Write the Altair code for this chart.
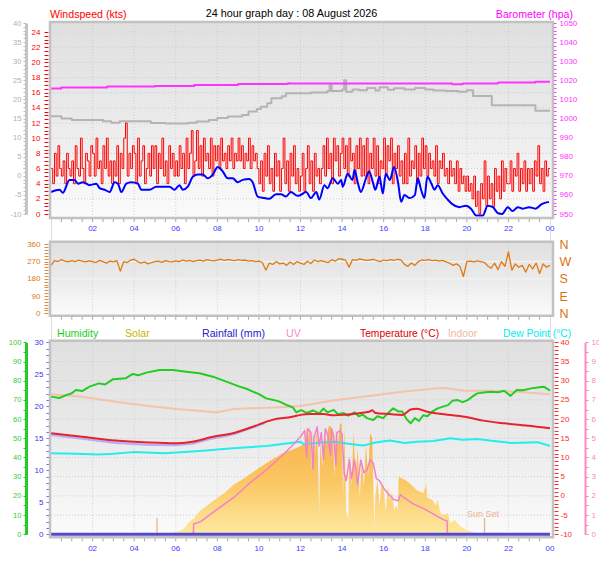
import altair as alt
import pandas as pd

FONT = "Liberation Sans"

# ---------------- data ----------------
HOUR_TICKS = [2, 4, 6, 8, 10, 12, 14, 16, 18, 20, 22, 24]
HOUR_LABELS = ["02", "04", "06", "08", "10", "12", "14", "16", "18", "20", "22", "00"]
HALF_HOURS = [i * 0.5 for i in range(1, 48)]

# wind gust (kts), every 5 minutes from 00:00 to 24:00
gust = [
    6, 4, 8, 5, 9, 6, 5, 7, 4, 8, 6, 5,
    7, 4, 9, 6, 5, 10, 6, 4, 8, 7, 5, 9,
    8, 5, 10, 6, 7, 4, 9, 6, 10, 5, 7, 4,
    7, 5, 9, 4, 8, 6, 10, 12, 5, 8, 6, 9,
    8, 4, 10, 5, 7, 9, 4, 6, 8, 5, 9, 6,
    9, 4, 8, 6, 10, 5, 7, 4, 9, 6, 8, 5,
    7, 5, 9, 6, 8, 4, 10, 6, 8, 11, 5, 7,
    11, 6, 9, 5, 10, 7, 8, 6, 10, 5, 9, 7,
    9, 6, 10, 7, 8, 6, 9, 7, 10, 6, 8, 7,
    10, 7, 9, 6, 8, 7, 10, 6, 9, 7, 8, 6,
    4, 7, 3, 8, 5, 9, 4, 6, 3, 8, 5, 7,
    3, 6, 10, 4, 7, 3, 8, 5, 9, 4, 6, 3,
    5, 8, 3, 6, 9, 4, 7, 3, 8, 5, 6, 4,
    6, 9, 5, 10, 6, 8, 4, 10, 7, 9, 5, 8,
    10, 6, 9, 5, 10, 7, 8, 4, 9, 6, 10, 5,
    9, 5, 10, 4, 8, 6, 10, 5, 9, 4, 7, 6,
    10, 5, 9, 7, 10, 4, 8, 6, 9, 5, 7, 4,
    8, 4, 10, 5, 7, 6, 9, 4, 8, 5, 10, 6,
    9, 5, 8, 6, 7, 5, 9, 4, 7, 6, 8, 5,
    6, 4, 7, 5, 6, 4, 7, 3, 6, 4, 5, 3,
    5, 3, 4, 2, 5, 1, 3, 0, 4, 2, 7, 1,
    5, 2, 4, 1, 6, 3, 5, 2, 7, 3, 6, 4,
    4, 7, 3, 6, 5, 8, 3, 6, 4, 7, 3, 6,
    4, 6, 3, 7, 5, 9, 4, 6, 3, 7, 5, 6,
    6,
]

# wind average (kts)
avg_h = [0, 0.41, 0.57, 0.89, 1.13, 1.3, 1.54, 1.86, 2.18, 2.34, 2.58, 2.82, 3.06, 3.22, 3.38,
         3.62, 3.86, 4.18, 4.34, 4.74, 5.06, 5.38, 5.7, 5.94, 6.18, 6.34, 6.58, 6.82, 7.06, 7.3,
         7.54, 7.78, 8.02, 8.26, 8.5, 8.74, 8.98, 9.22, 9.54, 9.7, 9.94, 10.26, 10.5, 10.82, 11.06,
         11.3, 11.54, 11.86, 12.0, 12.27, 12.5, 12.76, 12.9, 13.15, 13.3, 13.55, 13.8, 13.96, 14.03,
         14.27, 14.5, 14.6, 14.75, 14.9, 15.15, 15.3, 15.5, 15.6, 15.8, 15.96, 16.1, 16.3, 16.5,
         16.7, 16.84, 17.0, 17.24, 17.5, 17.64, 17.8, 17.96, 18.1, 18.3, 18.44, 18.6, 18.84, 19.08,
         19.3, 19.64, 19.96, 20.2, 20.45, 20.77, 21.0, 21.25, 21.5, 21.7, 21.97, 22.2, 22.45, 22.7,
         23.0, 23.3, 23.6, 23.95]
avg_v = [2.9, 3.2, 2.8, 4.5, 4.5, 4.0, 4.2, 3.8, 4.0, 3.4, 3.2, 2.9, 4.2, 4.0, 2.9,
         4.0, 4.2, 4.0, 3.2, 3.2, 3.6, 3.6, 3.6, 3.2, 3.8, 3.2, 3.6, 4.9, 5.2, 5.2,
         4.7, 5.2, 6.2, 5.6, 4.7, 4.7, 4.2, 4.5, 4.6, 4.2, 2.3, 2.1, 2.0, 2.6, 2.6,
         2.3, 2.9, 2.4, 2.5, 2.9, 2.1, 2.9, 1.9, 3.8, 3.4, 4.7, 4.0, 4.5, 3.6,
         5.3, 4.5, 5.8, 4.2, 2.9, 4.7, 5.6, 4.0, 3.2, 4.9, 2.7, 5.3, 4.5, 6.2,
         4.0, 1.6, 2.5, 2.1, 2.5, 4.7, 3.2, 2.1, 4.9, 4.0, 3.2, 3.8, 2.7, 1.9,
         1.3, 0.9, 1.1, 0.7, -0.2, -0.2, 1.1, 0.9, 0.1, 0.0, 0.9, 0.4, 0.9, 0.7,
         0.9, 0.7, 1.3, 1.6]

# grey series (left grey scale -10..40)
grey_h = [0, 0.5, 1.0, 2.5, 2.9, 3.3, 4.6, 4.8, 5.5, 6.6, 7.0, 7.6, 8.0, 8.5, 9.2, 9.5, 9.9,
          10.1, 10.4, 10.6, 11.1, 11.3, 12.5, 13.3, 13.4, 13.5, 14.0, 14.1, 14.2, 14.5, 14.8,
          15.2, 15.6, 15.8, 16.2, 16.5, 17.0, 17.5, 18.0, 18.4, 19.0, 19.6, 20.0, 20.3, 21.2,
          23.3, 24.0]
grey_v = [15.6, 15.0, 14.6, 14.3, 13.9, 14.3, 14.3, 13.8, 13.7, 13.9, 14.2, 14.6, 15.1, 15.5,
          15.9, 16.8, 17.5, 18.1, 19.0, 20.3, 20.8, 21.6, 21.8, 22.2, 23.7, 22.2, 22.5, 25.0,
          22.0, 22.6, 22.4, 23.0, 22.3, 23.2, 22.5, 22.9, 22.6, 23.0, 22.6, 22.3, 22.2, 22.0,
          22.4, 20.9, 18.5, 17.0, 17.0]

# barometer (hPa)
baro_h = [0, 0.5, 2.7, 5.0, 6.9, 9.0, 11.4, 11.5, 19.3, 19.8, 21.5, 23.3, 24.0]
baro_v = [1015.7, 1016.2, 1016.7, 1017.0, 1017.5, 1018.0, 1018.5, 1018.3, 1017.9, 1018.3,
          1018.9, 1019.3, 1019.3]

# wind direction (deg), every 10 minutes
wdir = [
    250, 275, 270, 280, 272, 268,
    275, 270, 278, 272, 268, 274,
    270, 265, 276, 270, 262, 272,
    268, 275, 220, 270, 265, 278,
    282, 270, 262, 268, 258, 265,
    270, 272, 266, 275, 270, 268,
    274, 270, 278, 272, 276, 270,
    275, 278, 272, 280, 276, 274,
    278, 282, 276, 280, 278, 275,
    280, 276, 278, 272, 275, 270,
    272, 265, 225, 262, 255, 270,
    258, 262, 250, 268, 255, 270,
    262, 255, 272, 260, 278, 270,
    275, 270, 265, 280, 272, 285,
    282, 278, 240, 280, 276, 284,
    280, 276, 278, 282, 275, 270,
    278, 275, 280, 276, 282, 278,
    255, 245, 262, 250, 270, 278,
    276, 280, 275, 278, 272, 276,
    268, 262, 250, 258, 245, 192,
    270, 272, 268, 274, 270, 266,
    248, 235, 262, 228, 270, 245,
    320, 225, 258, 240, 250, 215,
    255, 232, 262, 208, 258, 240,
    250,
]

# humidity (%)
hum_h = [0, 0.4, 0.73, 1.0, 1.2, 1.5, 1.85, 2.3, 2.6, 2.97, 3.3, 3.6, 3.94, 4.2, 4.58, 5.22, 5.86,
         6.5, 7.14, 7.79, 8.43, 9.07, 9.4, 9.71, 10.0, 10.35, 10.7, 10.99, 11.3, 11.63, 11.8, 12.03,
         12.3, 12.6, 12.9, 13.1, 13.3, 13.6, 13.8, 14.06, 14.3, 14.6, 14.8, 15.0, 15.2, 15.5, 15.7,
         15.98, 16.2, 16.46, 16.7, 16.9, 17.1, 17.3, 17.5, 17.7, 17.9, 18.1, 18.35, 18.6, 18.85,
         19.1, 19.3, 19.56, 19.8, 20.04, 20.3, 20.5, 20.8, 21.15, 21.5, 21.8, 22.1, 22.4, 22.7,
         23.1, 23.4, 23.7, 24.0]
hum_v = [71.7, 71.0, 72.5, 73.5, 75.2, 74.6, 76.9, 78.6, 78.0, 80.7, 81.0, 81.3, 83.5, 82.8, 84.2,
         85.6, 85.6, 84.7, 83.9, 82.1, 79.5, 76.9, 75.8, 74.3, 73.0, 70.8, 70.0, 69.1, 67.5, 66.1,
         63.5, 64.7, 63.2, 64.5, 63.0, 65.5, 63.5, 64.8, 62.5, 63.2, 61.8, 63.5, 61.5, 62.3, 60.5,
         59.5, 61.5, 60.5, 63.0, 65.6, 64.0, 63.9, 60.0, 57.8, 60.5, 59.0, 62.0, 61.5, 64.0, 65.6,
         66.5, 67.3, 69.5, 69.9, 68.8, 69.9, 72.0, 73.4, 73.8, 74.3, 74.0, 74.8, 72.1, 75.2, 75.0,
         76.0, 76.5, 76.9, 74.8]

# outdoor temperature (C)
temp_h = [0, 1.5, 3.1, 4.7, 6.0, 6.8, 7.8, 8.75, 9.7, 10.65, 11.6, 12.0, 12.5, 13.1, 13.6, 14.06,
          14.6, 15.3, 15.45, 15.6, 16.3, 16.9, 17.3, 17.6, 18.1, 18.9, 19.9, 20.8, 21.8, 23.1, 24.0]
temp_v = [16.3, 15.4, 14.4, 13.9, 13.7, 14.1, 15.4, 16.3, 18.0, 19.8, 20.6, 21.1, 21.3, 21.3, 21.0,
          21.1, 21.4, 21.9, 22.3, 21.6, 21.3, 21.1, 22.5, 22.7, 21.9, 21.25, 20.6, 19.6, 18.9, 18.2,
          17.6]

# lavender series under the temperature (C)
feel_h = [0, 1.5, 3.1, 4.7, 6.0, 6.8, 7.8, 8.75, 9.7, 10.3]
feel_v = [15.9, 14.9, 13.8, 13.3, 13.2, 13.6, 15.0, 16.0, 17.8, 19.0]

# indoor temperature (C)
indoor_h = [0, 1.5, 3.1, 4.7, 6.0, 7.1, 7.95, 8.75, 9.7, 11.1, 12.0, 13.7, 15.3, 16.9, 18.5, 18.9,
            19.9, 21.1, 22.4, 24.0]
indoor_v = [26.5, 25.8, 24.5, 23.4, 22.6, 22.2, 21.7, 22.6, 22.8, 23.1, 23.4, 25.0, 26.0, 27.1,
            28.0, 28.1, 27.4, 27.4, 27.1, 26.5]

# dew point (C)
dew_h = [0, 1.2, 2.3, 3.0, 3.94, 5.5, 7.14, 8.75, 10.35, 12.0, 12.14, 13.0, 13.7, 14.3, 15.0, 15.6,
         16.3, 17.0, 17.6, 18.4, 19.2, 19.8, 20.5, 21.3, 22.1, 23.4, 24.0]
dew_v = [11.1, 11.0, 10.8, 11.0, 11.4, 11.1, 11.7, 12.4, 13.0, 14.1, 13.5, 13.9, 14.1, 13.6, 13.1,
         13.9, 14.4, 13.8, 14.1, 14.3, 15.0, 14.6, 14.8, 14.3, 13.8, 14.0, 13.0]

# solar radiation (W/m2)
solar_h = [0, 5.0, 5.3, 5.8, 6.2, 6.4, 6.6, 6.9, 7.14, 7.5, 7.95, 8.4, 8.75, 9.2, 9.55, 10.0, 10.35,
           10.8, 11.15, 11.6, 12.0, 12.25, 12.3, 12.4, 12.45, 12.55, 12.6, 12.7, 12.8, 12.9, 12.95,
           13.05, 13.15, 13.25, 13.35, 13.45, 13.55, 13.65, 13.7, 13.8, 13.9, 13.97, 14.05, 14.1,
           14.2, 14.3, 14.35, 14.45, 14.55, 14.65, 14.75, 14.85, 14.95, 15.05, 15.15, 15.25, 15.35,
           15.45, 15.55, 15.6, 15.7, 15.8, 15.9, 16.0, 16.1, 16.2, 16.3, 16.4, 16.5, 16.6, 16.68,
           16.72, 17.0, 17.25, 17.6, 17.9, 18.05, 18.1, 18.35, 18.5, 18.6, 18.7, 18.8, 19.1, 19.2,
           19.4, 19.7, 20.0, 20.2, 20.5, 20.6, 24.0]
solar_v = [0, 0, 4, 8, 18, 30, 60, 85, 120, 150, 185, 220, 255, 285, 312, 345, 370,
           400, 422, 440, 458, 475, 560, 500, 565, 330, 540, 420, 555, 110, 480,
           350, 540, 470, 560, 565, 520, 300, 550, 460, 575, 580, 200, 560,
           120, 80, 420, 250, 534, 300, 450, 196, 380, 250, 470, 300, 526,
           500, 40, 200, 283, 150, 260, 230, 120, 250, 179, 220, 127, 150, 127,
           300, 285, 266, 230, 214, 260, 190, 179, 150, 179, 120, 100, 110, 57,
           74, 40, 22, 14, 3, 0, 0]

# UV index
uv_h = [0, 6.85, 6.86, 7.2, 7.95, 8.75, 9.55, 10.35, 11.15, 11.63, 12.0, 12.2, 12.3, 12.35, 12.5,
        12.6, 12.65, 12.8, 12.9, 13.0, 13.1, 13.2, 13.3, 13.45, 13.5, 13.6, 13.7, 13.75, 13.9, 14.0,
        14.1, 14.2, 14.35, 14.45, 14.6, 14.75, 14.9, 15.05, 15.2, 15.35, 15.5, 15.65, 15.8, 16.0,
        16.2, 16.5, 16.7, 16.8, 17.0, 17.4, 18.0, 18.6, 18.9, 19.05, 19.07, 24.0]
uv_v = [0, 0, 0.54, 0.66, 1.27, 1.88, 2.66, 3.35, 4.13, 4.65, 5.08, 5.4, 4.0, 5.5, 5.3,
        3.4, 5.0, 5.6, 4.6, 5.3, 3.9, 5.5, 5.2, 4.1, 5.5, 5.1, 3.6, 5.3, 5.4, 5.2,
        3.2, 2.8, 3.9, 2.9, 3.87, 2.6, 3.87, 3.2, 3.35, 3.9, 3.7, 2.9, 2.8, 2.4,
        2.13, 1.8, 1.75, 2.06, 1.9, 1.6, 1.3, 0.92, 0.75, 0.7, 0, 0]

# rainfall (mm)
rain_h = [0, 24]
rain_v = [0, 0]

SUNRISE_H = 5.1
SUNSET_H = 20.85

# ---------------- layout helpers ----------------
W = 499
H = 515
XS = alt.Scale(domain=[0, 24], range=[0, W], nice=False, zero=False)
XN = alt.X("h:Q", scale=XS, axis=None)

def ysc(domain, rng):
    return alt.Scale(domain=domain, range=rng, nice=False, zero=False)

# panel pixel ranges (plot coordinates)
TOP_Y0, TOP_Y1 = 0, 196
MID_Y0, MID_Y1 = 219.7, 293.7
BOT_Y0, BOT_Y1 = 318.7, 515.3

S_WIND = lambda: ysc([0, 24], [192, 10])
S_GREY = lambda: ysc([-10, 40], [192, 1])
S_BARO = lambda: ysc([950, 1050], [192, 1])
S_DIR = lambda: ysc([0, 360], [291.3, 222.3])
S_RAIN = lambda: ysc([0, 30], [512.3, 320.3])
S_HUM = lambda: ysc([0, 100], [512.3, 320.3])
S_TEMP = lambda: ysc([-10, 40], [512.3, 320.3])
S_UV = lambda: ysc([0, 10], [512.3, 320.3])
S_SOLAR = lambda: ysc([0, 1000], [512.3, 320.3])


def yaxis(orient, offset, values, every, color, label_color=None, domain=False,
          domain_color=None, domain_width=1, tick_size=3, padding=2, size=8, expr=None,
          ticks=True):
    if expr is None:
        expr = f"abs(datum.value % {every}) < 0.001 ? '' + datum.value : ''"
    kw = dict(orient=orient, offset=offset, values=values, labelExpr=expr,
              tickColor=color, labelColor=label_color or color, tickSize=tick_size,
              labelPadding=padding, labelFontSize=size, labelFont=FONT, domain=domain,
              grid=False, title=None, labelOverlap=False, labelFlush=False, labelBound=False,
              ticks=ticks, tickWidth=1)
    if domain:
        kw.update(domainColor=domain_color, domainWidth=domain_width)
    return alt.Axis(**kw)


def series(h, v):
    return pd.DataFrame({"h": h, "v": v})


def line(df, scale, color, width=1.5, interp="linear", axis=None, opacity=1.0):
    return alt.Chart(df).mark_line(color=color, strokeWidth=width, interpolate=interp,
                                   opacity=opacity, strokeJoin="round").encode(
        x=XN, y=alt.Y("v:Q", scale=scale, axis=axis))


def label(txt, x, y, color, size=10.6, align="left"):
    return alt.Chart(pd.DataFrame({"t": [txt]})).mark_text(
        align=align, baseline="alphabetic", color=color, fontSize=size, font=FONT).encode(
        x=alt.value(x), y=alt.value(y), text="t:N")


def panel_bg(y0, y1):
    return alt.Chart(pd.DataFrame({"a": [0]})).mark_rect(
        fill={"gradient": "linear", "x1": 0, "x2": 0, "y1": 0, "y2": 1,
              "stops": [{"offset": 0, "color": "#e0e0e0"},
                        {"offset": 0.45, "color": "#e9e9e9"},
                        {"offset": 1, "color": "#fbfbfb"}]}).encode(
        x=alt.value(-1), x2=alt.value(W + 3), y=alt.value(y0), y2=alt.value(y1))


def panel_frame(y0, y1):
    return alt.Chart(pd.DataFrame({"a": [0]})).mark_rect(
        fillOpacity=0, stroke="#c2c2c2", strokeWidth=2.5).encode(
        x=alt.value(-1), x2=alt.value(W + 3), y=alt.value(y0), y2=alt.value(y1))


def vgrid(y0, y1):
    return alt.Chart(pd.DataFrame({"h": HOUR_TICKS[:-1]})).mark_rule(
        color="#cdcdcd", strokeDash=[1, 2], strokeWidth=1).encode(
        x=XN, y=alt.value(y0), y2=alt.value(y1))


def hgrid(vals, scale, color="#cdcdcd", dash=(1, 2)):
    return alt.Chart(pd.DataFrame({"v": vals})).mark_rule(
        color=color, strokeDash=list(dash), strokeWidth=1).encode(
        y=alt.Y("v:Q", scale=scale, axis=None), x=alt.value(0), x2=alt.value(W + 2))


def time_ticks(y0):
    return alt.Chart(pd.DataFrame({"h": HALF_HOURS})).mark_rule(
        color="#a8a8a8", strokeWidth=1).encode(x=XN, y=alt.value(y0), y2=alt.value(y0 + 3))


def time_labels(y):
    return alt.Chart(pd.DataFrame({"h": HOUR_TICKS, "lab": HOUR_LABELS})).mark_text(
        align="center", baseline="middle", fontSize=8, font=FONT, color="#3b3bff").encode(
        x=XN, y=alt.value(y), text="lab:N")


layers = []
# backgrounds and grids
for y0, y1 in [(TOP_Y0, TOP_Y1), (MID_Y0, MID_Y1), (BOT_Y0, BOT_Y1)]:
    layers.append(panel_bg(y0, y1))
    layers.append(vgrid(y0, y1))
layers.append(hgrid(list(range(2, 25, 2)), S_WIND()))
layers.append(hgrid([90, 180, 270], S_DIR(), color="#f6f6f6", dash=(1, 0)))
layers.append(hgrid(list(range(-5, 40, 5)), S_TEMP()))

# ---- top panel ----
gust_df = series([i / 12 for i in range(len(gust))], gust)
layers.append(line(series(grey_h, grey_v), S_GREY(), "#b4b4b4", 2, "step-after",
                   axis=yaxis("left", 25, list(range(-10, 41)), 5, "#bdbdbd",
                              label_color="#b0b0b0", domain=True, domain_color="#c4c4c4",
                              domain_width=3, tick_size=3, padding=2, size=7.6)))
layers.append(line(series(baro_h, baro_v), S_BARO(), "#ff33ff", 2, "step-after",
                   axis=yaxis("right", 3, list(range(950, 1051, 2)), 10, "#ff33ff",
                              tick_size=3, padding=3)))
layers.append(line(gust_df, S_WIND(), "#ff0000", 1, "step-after",
                   axis=yaxis("left", 3, [i * 0.5 for i in range(51)], 2, "#ff0000",
                              tick_size=4, padding=4)))
layers.append(line(series(avg_h, avg_v), S_WIND(), "#0000ff", 2, "monotone"))

# ---- middle panel ----
dir_df = series([i / 6 for i in range(len(wdir))], wdir)
layers.append(line(dir_df, S_DIR(), "#e07a14", 1.3,
                   axis=yaxis("left", 3, list(range(0, 361, 15)), 90, "#e8883a",
                              label_color="#e07a14", tick_size=4, padding=4)))
layers.append(line(dir_df, S_DIR(), "#e07a14", 0.1, opacity=0,
                   axis=yaxis("right", 2, [0, 90, 180, 270, 360], 90, "#d97412",
                              tick_size=0, ticks=False, padding=7, size=12.5,
                              expr="['N','E','S','W','N'][round(datum.value / 90)]")))

# ---- bottom panel ----
solar_df = series(solar_h, solar_v).assign(z=0)
layers.append(alt.Chart(solar_df).mark_area(
    fill={"gradient": "linear", "x1": 0, "x2": 0, "y1": 0, "y2": 1,
          "stops": [{"offset": 0, "color": "#f8ae45"},
                    {"offset": 0.55, "color": "#fbc865"},
                    {"offset": 1, "color": "#fee9a2"}]}).encode(
    x=XN, y=alt.Y("v:Q", scale=S_SOLAR(), axis=None), y2="z:Q"))
sun_df = pd.DataFrame({"h": [SUNRISE_H, SUNSET_H]})
layers.append(alt.Chart(sun_df).mark_rule(color="#f2b08c", strokeWidth=1.3).encode(
    x=XN, y=alt.value(496), y2=alt.value(515)))
layers.append(line(series(feel_h, feel_v), S_TEMP(), "#b4b0f8", 2.2))
layers.append(line(series(indoor_h, indoor_v), S_TEMP(), "#f5c2aa", 2))
layers.append(line(series(hum_h, hum_v), S_HUM(), "#22cc22", 2,
                   axis=yaxis("left", 25, list(range(0, 101, 5)), 10, "#22cc22",
                              label_color="#33cc33", domain=True, domain_color="#22cc22",
                              domain_width=3, tick_size=3, padding=2, size=7.6)))
layers.append(line(series(temp_h, temp_v), S_TEMP(), "#e8222a", 2, "monotone",
                   axis=yaxis("right", 4, list(range(-10, 41)), 5, "#ff2a2a",
                              tick_size=4, padding=2)))
layers.append(line(series(dew_h, dew_v), S_TEMP(), "#22eeee", 2))
layers.append(line(series(uv_h, uv_v), S_UV(), "#f282c6", 1.5,
                   axis=yaxis("right", 35, [i * 0.5 for i in range(21)], 1, "#ff7fc0",
                              domain=True, domain_color="#ff88c8", domain_width=2,
                              tick_size=3, padding=3)))
layers.append(line(series(rain_h, rain_v), S_RAIN(), "#5548d0", 3,
                   axis=yaxis("left", 1, list(range(0, 31)), 5, "#6a6aff",
                              label_color="#3636ee", tick_size=4, padding=3)))

# frames, ticks, time labels
for y0, y1 in [(TOP_Y0, TOP_Y1), (MID_Y0, MID_Y1), (BOT_Y0, BOT_Y1)]:
    layers.append(panel_frame(y0, y1))
    layers.append(time_ticks(y1 + 1))
layers.append(time_labels(207.3))
layers.append(time_labels(527.3))

# texts
layers.append(label("24 hour graph day : 08 August 2026", 240.5, -5, "#000000", 10.8, "center"))
layers.append(label("Windspeed (kts)", -1, -4.5, "#ff0000"))
layers.append(label("Barometer (hpa)", 522, -4.5, "#ff00ff", align="right"))
layers.append(label("Humidity", 6, 315.3, "#22cc22"))
layers.append(label("Solar", 74, 315.3, "#c8b400"))
layers.append(label("Rainfall (mm)", 151, 315.3, "#2222cc"))
layers.append(label("UV", 235, 315.3, "#ff88cc"))
layers.append(label("Temperature (°C)", 309, 315.3, "#dd0000", size=10.3))
layers.append(label("Indoor", 397, 315.3, "#f0b898", size=10.3))
layers.append(label("Dew Point (°C)", 452, 315.3, "#00eef0", size=10.3))
layers.append(label("Sun Set", 416, 494.7, "#f0b090", size=9))

chart = alt.layer(*layers).resolve_scale(y="independent").properties(
    width=W, height=H,
    autosize=alt.AutoSizeParams(type="none"),
    padding={"left": 43, "top": 14, "right": 49, "bottom": 16},
).configure_view(stroke=None).configure(background="white")

chart.save("out.html", embed_options={"renderer": "svg", "actions": False})
